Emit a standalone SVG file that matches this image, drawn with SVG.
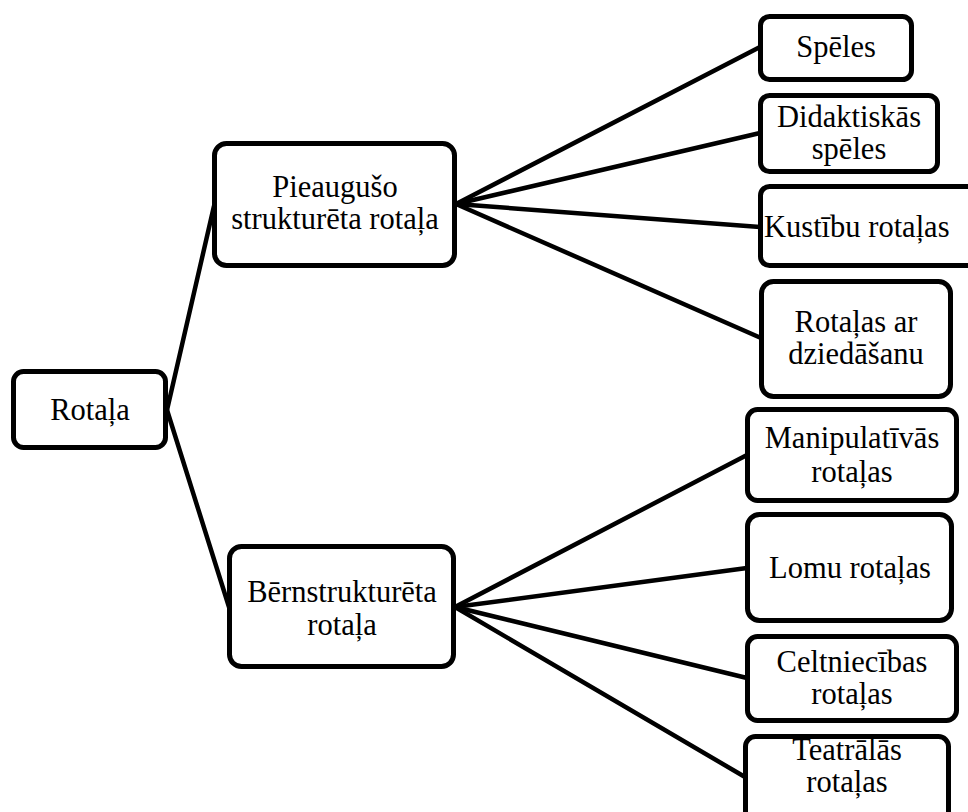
<svg xmlns="http://www.w3.org/2000/svg" width="968" height="812" viewBox="0 0 968 812">
<style>
.box{fill:#fff;stroke:#000;stroke-width:5;}
.lbl{font-family:'Liberation Serif',Tinos,'Times New Roman','DejaVu Serif',serif;font-size:30.5px;fill:#000;text-anchor:middle;}
.conn line{stroke:#000;stroke-width:4.5;stroke-linecap:round;}
</style>
<rect width="968" height="812" fill="#fff"/>
<g id="connectors" class="conn">
<line x1="167" y1="410" x2="214" y2="206"/>
<line x1="167" y1="410" x2="229" y2="607"/>
<line x1="456" y1="204" x2="760" y2="47"/>
<line x1="456" y1="204" x2="760" y2="133"/>
<line x1="456" y1="204" x2="760" y2="227"/>
<line x1="456" y1="204" x2="761" y2="338"/>
<line x1="455" y1="607" x2="747" y2="455"/>
<line x1="455" y1="607" x2="747" y2="568"/>
<line x1="455" y1="607" x2="747" y2="678"/>
<line x1="455" y1="607" x2="745" y2="777"/>
</g>
<g id="n-rotala">
<rect class="box" x="13.5" y="371.5" width="152" height="76" rx="10"/>
<text class="lbl" x="90" y="420" font-family="Liberation Serif, serif">Rotaļa</text>
</g>
<g id="n-pieauguso">
<rect class="box" x="214.5" y="143.5" width="240" height="122" rx="12"/>
<text class="lbl" x="335" y="197">Pieaugušo</text>
<text class="lbl" x="335" y="229">strukturēta rotaļa</text>
</g>
<g id="n-bernstrukt">
<rect class="box" x="229.5" y="546.5" width="224" height="120" rx="12"/>
<text class="lbl" x="342" y="602">Bērnstrukturēta</text>
<text class="lbl" x="342" y="635">rotaļa</text>
</g>
<g id="n-speles">
<rect class="box" x="760.5" y="16.5" width="151" height="63" rx="9"/>
<text class="lbl" x="836" y="57">Spēles</text>
</g>
<g id="n-didakt">
<rect class="box" x="760.5" y="95.5" width="177" height="76" rx="9"/>
<text class="lbl" x="849" y="127">Didaktiskās</text>
<text class="lbl" x="849" y="159">spēles</text>
</g>
<g id="n-kustibu">
<rect class="box" x="760.5" y="186.5" width="220" height="79" rx="9"/>
<text class="lbl" x="764" y="237" style="text-anchor:start">Kustību rotaļas</text>
</g>
<g id="n-dziedasanu">
<rect class="box" x="761.5" y="281.5" width="189" height="115" rx="12"/>
<text class="lbl" x="856" y="332">Rotaļas ar</text>
<text class="lbl" x="856" y="364">dziedāšanu</text>
</g>
<g id="n-manipul">
<rect class="box" x="747.5" y="409.5" width="209" height="91" rx="10"/>
<text class="lbl" x="852" y="448">Manipulatīvās</text>
<text class="lbl" x="852" y="482">rotaļas</text>
</g>
<g id="n-lomu">
<rect class="box" x="747.5" y="514.5" width="204" height="106" rx="12"/>
<text class="lbl" x="850" y="578">Lomu rotaļas</text>
</g>
<g id="n-celtn">
<rect class="box" x="747.5" y="636.5" width="209" height="84" rx="10"/>
<text class="lbl" x="852" y="672">Celtniecības</text>
<text class="lbl" x="852" y="704">rotaļas</text>
</g>
<g id="n-teatr">
<rect class="box" x="745.5" y="736.5" width="203" height="90" rx="10"/>
<text class="lbl" x="847" y="760">Teatrālās</text>
<text class="lbl" x="847" y="792">rotaļas</text>
</g>
</svg>
